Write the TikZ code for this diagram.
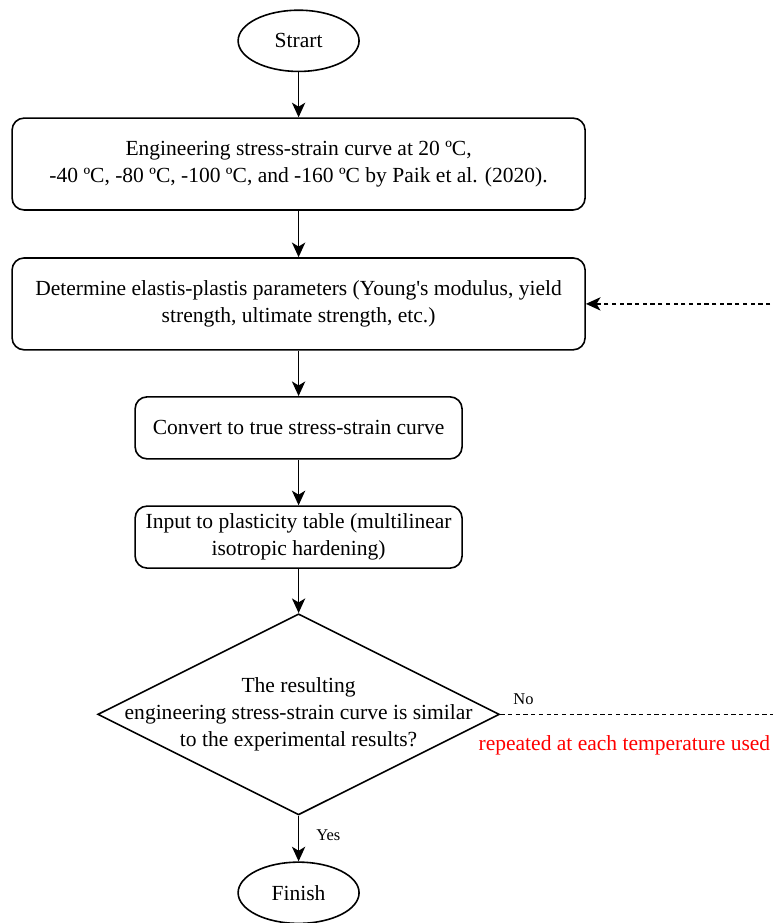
\documentclass[tikz,border=0pt]{standalone}
\usepackage{fontspec}
\setmainfont{Liberation Serif}
\usepackage{tikz}
\usetikzlibrary{shapes.geometric,arrows.meta}

\begin{document}
\begin{tikzpicture}[
    box/.style={draw,rounded corners=9pt,line width=1.2pt,align=center,
      font=\fontsize{16.2}{20}\selectfont},
    term/.style={draw,ellipse,line width=1.2pt,minimum width=3.2cm,
      minimum height=1.62cm,inner sep=0pt,font=\fontsize{16.2}{20}\selectfont},
    decide/.style={draw,diamond,shape aspect=2,line width=1.2pt,
      minimum width=10.63cm,minimum height=5.32cm,inner sep=-0.6cm,
      align=center,font=\fontsize{16.2}{20}\selectfont},
    flow/.style={-{Stealth[length=11pt,width=10pt,inset=3pt]},line width=1.2pt},
    back/.style={flow,dash pattern=on 3.2pt off 2.6pt},
    lbl/.style={font=\fontsize{12.4}{15}\selectfont,inner sep=0pt}]

% Page of the original figure (773 x 923 px, 1 cm = 37.8 px)
\useasboundingbox (0,0) rectangle (20.45,-24.42);

%-------------------------------------------------------------------
% Main column, all centred on x = 7.9
\node[term] (start) at (7.9,-1.08) {Strart};

\node[box,minimum width=15.16cm,minimum height=2.43cm] (eng) at (7.9,-4.34)
  {Engineering stress-strain curve at 20 ºC,\\
   -40 ºC, -80 ºC, -100 ºC, and -160 ºC by Paik et al. (2020).};

\node[box,minimum width=15.16cm,minimum height=2.43cm] (param) at (7.9,-8.04)
  {Determine elastis-plastis parameters (Young\textquotesingle s modulus, yield\\
   strength, ultimate strength, etc.)};

\node[box,minimum width=8.65cm,minimum height=1.64cm] (true) at (7.9,-11.32)
  {Convert to true stress-strain curve};

\node[box,minimum width=8.65cm,minimum height=1.64cm] (table) at (7.9,-14.21)
  {Input to plasticity table (multilinear\\isotropic hardening)};

\node[decide] (check) at (7.9,-18.90)
  {The resulting\\engineering stress-strain curve is similar\\
   to the experimental results?};

\node[term] (finish) at (7.9,-23.62) {Finish};

%-------------------------------------------------------------------
% Arrows down the column
\draw[flow] (start) -- (eng);
\draw[flow] (eng) -- (param);
\draw[flow] (param) -- (true);
\draw[flow] (true) -- (table);
\draw[flow] (table) -- (check);
\draw[flow] (check) -- (finish) node[lbl,pos=0.42,right=0.45cm] (yes) {Yes};

% Loop back (the vertical part lies just past the right edge)
\coordinate (loop) at (20.55,-18.90);
\draw[back] (check.east) -- (loop) |- (param.east);
\node[lbl,anchor=south west] (no) at ([xshift=0.34cm,yshift=0.24cm]check.east) {No};
\node[font=\fontsize{16.2}{20}\selectfont,text=red,inner sep=0pt,anchor=base west]
  (note) at ([xshift=-0.58cm,yshift=-0.95cm]check.east)
  {repeated at each temperature used};

\end{tikzpicture}
\end{document}
